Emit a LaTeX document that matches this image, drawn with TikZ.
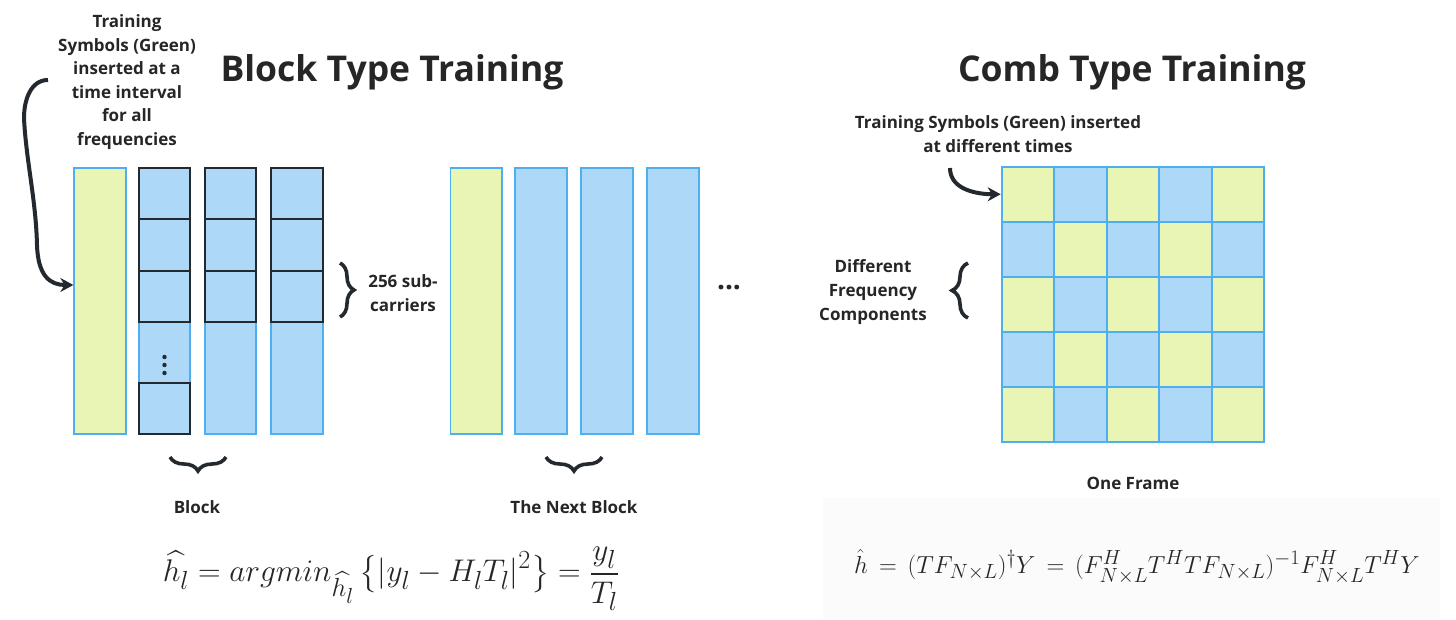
\documentclass[tikz,border=0pt]{standalone}
\usepackage[no-math]{fontspec}
\setmainfont{Open Sans}
\usepackage{amsmath}
\definecolor{OFDMgreen}{HTML}{E9F5B4}
\definecolor{OFDMblue}{HTML}{ADD8F7}
\definecolor{OFDMedge}{HTML}{4FAEF0}
\definecolor{OFDMdark}{HTML}{23292E}
\definecolor{OFDMtext}{HTML}{262626}
\definecolor{OFDMpanel}{HTML}{FBFBFB}
\usetikzlibrary{decorations.pathreplacing, arrows.meta, positioning, calc}

\begin{document}
\begin{tikzpicture}[x=1pt, y=-1pt,
      every node/.style={text=OFDMtext, inner sep=0pt, font=\bfseries\fontsize{17}{23.6}\selectfont},
      title/.style={font=\bfseries\fontsize{35.5}{40}\selectfont},
      col/.style={draw=OFDMedge, line width=1.8pt, minimum width=51.5pt, minimum height=266pt},
      greencol/.style={col, fill=OFDMgreen},
      bluecol/.style={col, fill=OFDMblue},
      cell/.style={draw=OFDMdark, line width=2.2pt, fill=OFDMblue, minimum width=51.5pt, minimum height=51.3pt},
      combcell/.style={draw=OFDMedge, line width=2pt, minimum width=52.5pt, minimum height=55.1pt},
      curly/.style={decorate, decoration={brace, amplitude=#1}, line width=3.6pt, draw=OFDMdark},
      pointer/.style={-{Stealth[length=13pt, width=14pt]}, line width=4pt, draw=OFDMdark}]
   \useasboundingbox (0,0) rectangle (1456,619);
   % Titles
   \node[title] (blocktitle) at (392,72) {Block Type Training};
   \node[title] (combtitle) at (1132,72) {Comb Type Training};

   % Block type: first block
   \node[greencol] (g1) at (100,301) {};
   \foreach \cx/\nm in {164.5/a, 230.5/b, 297/c} {
      \node[bluecol] (col\nm) at (\cx,301) {};
      \foreach \k in {1,2,3}
         \node[cell] (cell\nm\k) at (\cx,{168+51.33*(\k-0.5)}) {};
   }
   \node[cell] (cella4) at (164.5,408.5) {};
   \foreach \dy in {357,365,373}
      \fill[OFDMdark] (164.5,\dy) circle (2.2pt);

   % Block type: next block
   \node[greencol] (g2) at (476.3,301) {};
   \foreach \cx/\nm in {541/d, 607/e, 673/f}
      \node[bluecol] (col\nm) at (\cx,301) {};
   \node[anchor=base, font=\bfseries\fontsize{28}{28}\selectfont] (more) at (729,289.5) {...};

   % Annotation with bent arrow
   \node[align=center] (note) at (127,82) {Training\\Symbols (Green)\\inserted at a\\time interval\\for all\\frequencies};
   \coordinate (notetail) at (48,80);
   \draw[pointer] (notetail) to[out=180, in=90] (24,118)
      .. controls (26,160) and (36,200) .. (37,245)
      .. controls (38,276) and (50,285) .. ($(g1.west)+(0,-16)$);

   % Braces and labels
   \draw[curly=14pt] (340,263) -- (340,317);
   \node[align=center] (subcar) at (403,293) {256 sub-\\carriers};
   \draw[curly=14pt] (226,457) -- (170,457);
   \node (blk) at (197,507) {Block};
   \draw[curly=14pt] (602,457) -- (546,457);
   \node (nextblk) at (574,507) {The Next Block};

   % Block type estimate
   \node (lseq) at (391,579) {\scalebox{1.26}{\fontsize{24.88}{30}\selectfont
      $\displaystyle \widehat{h_l} = argmin_{\widehat{h_l}}\,\big\{|y_l - H_l T_l|^2\big\} = \frac{y_l}{T_l}$}};

   % Comb type grid
   \foreach \r in {0,...,4}
      \foreach \c in {0,...,4} {
         \pgfmathtruncatemacro{\parity}{mod(\r+\c,2)}
         \ifnum\parity=0 \def\combfill{OFDMgreen}\else\def\combfill{OFDMblue}\fi
         \node[combcell, fill=\combfill] (comb\r\c) at ({1001.7+52.46*(\c+0.5)},{166.7+55.12*(\r+0.5)}) {};
      }
   \node[align=center] (combnote) at (998,134) {Training Symbols (Green) inserted\\at different times};
   \coordinate (combtail) at (950,168);
   \draw[pointer] (combtail) to[out=-90, in=180] (comb00.west);
   \draw[curly=16pt] (968,318) -- (968,263);
   \node[align=center] (freq) at (873,292) {Different\\Frequency\\Components};
   \node (frame) at (1133,483) {One Frame};

   % Comb type estimate
   \fill[OFDMpanel] (823,498) rectangle (1440,619);
   \node (lsright) at (1137,567) {\scalebox{0.99}{\fontsize{24.88}{30}\selectfont
      $\hat{h} \,=\, (TF_{N\times L})^{\dagger} Y \,=\, (F^{H}_{N\times L} T^{H} T F_{N\times L})^{-1} F^{H}_{N\times L} T^{H} Y$}};
\end{tikzpicture}
\end{document}
